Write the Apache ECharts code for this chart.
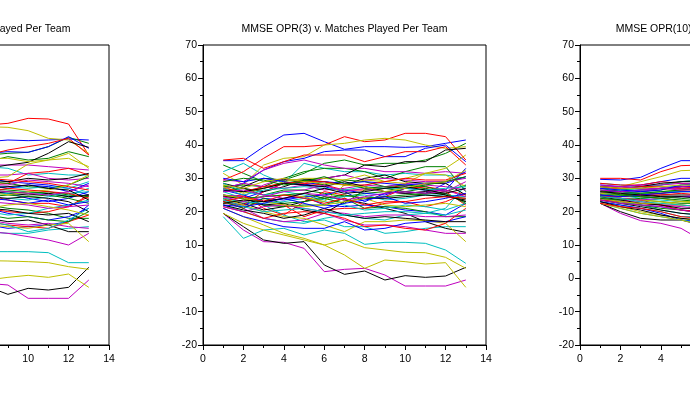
<!DOCTYPE html>
<html>
<head>
<meta charset="utf-8">
<script src="https://cdn.jsdelivr.net/npm/echarts@6/dist/echarts.min.js"></script>
<style>html,body{margin:0;padding:0;background:#fff;overflow:hidden;width:690px;height:393px;}#c{width:1040px;height:393px;margin-left:-174px;}</style>
</head>
<body>
<div id="c"></div>
<script>
// ---------------- DATA ----------------
const titles = [
  "MMSE OPR(1) v. Matches Played Per Team",
  "MMSE OPR(3) v. Matches Played Per Team",
  "MMSE OPR(10) v. Matches Played Per Team"
];
const xTicks = [0, 2, 4, 6, 8, 10, 12, 14];
const yTicks = [-20, -10, 0, 10, 20, 30, 40, 50, 60, 70];

// Left panel (only matches 8..13 are visible)
const leftX = [8, 9, 10, 11, 12, 13];
const leftBlue = [
  [41,41.5,41.3,41.5,41.8,41.5],[37.5,38,37.8,39.5,42.5,39],[30,29,28.5,28,27,25],
  [26,25.5,24,23,24,26],[21,19.5,18.5,17.5,18.5,21],[16,15,15.5,16,17,22],
  [28,27,28,27.5,26,28.5],[24,23.5,22.5,23.5,22,23]];
const leftGreen = [
  [37,37.5,37.8,39.5,42.3,40.5],[35,36.5,35.5,36,38,36.5],[27,26.5,26,25.5,24.5,25],
  [22,21,20.5,19.5,18,18],[29,28.5,27.5,27,28,30.5],[24.5,25,24.5,25,24,22.5],
  [19,18,18.5,17.5,17,20],[26.5,26,25.5,26,25,24.5]];
const leftRed = [
  [46,46.5,48,47.8,46.3,37],[37,38.5,39.5,40.5,42,37],[28,28.5,31.5,32,33,31],
  [25,23.5,22.5,22.5,21.5,24.5],[21,20,19.5,20,21.5,25],[17,16,15.5,15,17,19],
  [30,29.5,29,28.5,27.5,26.5],[26,27,26.5,26,25.5,24]];
const leftCyan = [
  [33.5,33,31,31.5,31,31],[8,8,8,7.7,4.7,4.7],[14,13.5,13.5,14.5,15,15.5],
  [23,24,23.5,24.5,25,27],[27.5,27.5,27,27.5,27,29],[20,19,19.5,21,22,23.5],
  [25,25.5,26,25,25.5,26],[17,16,14,15,17.5,21]];
const leftMagenta = [
  [-1.5,-2,-6,-6,-6,-0.5],[34,34,34,33.5,33,32.5],[31,31,31.5,30,29.5,30],
  [14,13.5,12.5,11.5,10,13.5],[28,28,29.5,29,28.5,27.5],[17.5,16.5,16,16.5,15.5,15],
  [23,22.5,22,21,21.5,22],[26.5,26,25.5,25,26,28]];
const leftOlive = [
  [45.5,45.3,44.3,42,41.5,37.5],[5.3,5.2,5,4.7,3.5,2.7],[-0.5,0.3,0.9,0.3,1.3,-2.7],
  [30,30.5,34.3,35.5,37.5,33],[36,36,35,35.5,36,33.5],[16,15.5,15,16,16.5,11],
  [26,25,26,26.5,28,31],[21,22,22.5,21.5,20.5,19]];
const leftBlack = [
  [-2.5,-4.8,-3,-3.5,-2.7,3.3],[33,34,34.8,37.5,41,39.3],[18,17,17.5,16,14,14],
  [24.5,24,24.5,24,23,20],[29.5,29,30,29.5,30,31.5],[26,25.5,25,25.5,24.5,25],
  [21,20.5,19.5,19,19.5,17],[27,27.5,28,27,26.5,23.5]];

// Middle panel, OPR(3)
const midX = [1, 2, 3, 4, 5, 6, 7, 8, 9, 10, 11, 12, 13];
const midBlue = [
  [35.3,35.3,39.5,43,43.5,41,38.7,39.5,39.5,39.3,39.5,40.5,41.5],
  [27,28.5,32.5,35,36,38,38.5,38.5,36.5,36.5,39,40,35],
  [25,24,26,28.5,28,27.5,26,23,25.5,26,25.5,28.5,30.5],
  [23,22,24,23.5,24.5,22,21.5,22,21.5,20.5,20,19,22.5],
  [21,18.5,17,15.5,15,15,17,14.5,15,16.5,17,17,18.5],
  [26.5,25,23,24,24.5,25,26.5,25.5,25,27,26.5,26.5,33],
  [30,29,30,29,28,29,28.5,29,28.5,28,28.5,29,32],
  [22,21.5,22.5,24,22.5,21,22.5,23.5,24.5,22.5,23,24,25.5]];
const midGreen = [
  [34,31.5,29,29.5,31.5,34.5,35.5,34,34.5,34.5,35.5,37.5,40.5],
  [27.5,28,27.5,30,32,33,33,32,30,32,33.5,33.5,26],
  [26,27,25,26.5,26.5,25.5,24.5,25.5,26,25.5,25,24.5,24],
  [24,23,22,21.5,22,22,24,21,21.5,21,20,18.5,18.5],
  [28,26,27,28.5,29.5,28,29.5,29,27.5,28,27.5,26,28],
  [23,21,24,22.5,23,24,22.5,26.5,27,26,27,25,23],
  [25,24,24.5,25,25.5,24,25,24,24.5,25,25.5,25.5,22.5],
  [29,30,29.5,28,29,30.5,28.5,27,27.5,27,28,29,30.5]];
const midRed = [
  [29.5,32,36,39.5,39.5,40,42.5,41,41.5,43.5,43.5,42.5,35.5],
  [35.5,36,33,35,37,37,37,35,36.5,38,38,39.5,34],
  [24.5,25,21,19,23,26,25,24,24.5,27,27.5,26.5,25],
  [22.5,22,26,28.5,28.5,28,26.5,26.5,27,28,27,26,22],
  [24,21,23.5,22,18.5,20.5,21,21,22.5,23,21.5,23,25.5],
  [21.5,20,18,19.5,20,19.5,18,15.5,16,15,14.5,16.5,21],
  [27,26,27.5,28.5,29,29,28,28,29,30,29.5,29.5,31.5],
  [23,24.5,23,25,24,22.5,24,22,23,23,24,24.5,24]];
const midCyan = [
  [32,34.5,31,28.5,34.5,33,32,32,31,31.5,31,31,30],
  [18.5,12,14.5,15,13,14.5,13.5,10.2,10.8,10.8,10.5,8.5,4.5],
  [26,24,22,19,17,17.5,15.5,15.5,13.5,14,15,15.5,15.5],
  [22,20,18,17,16.5,18,19,18,17.5,19,19.5,21,28],
  [28.5,26,25,26,25,23.5,24.5,25,23.5,24,25,25,24.5],
  [24,23,22.5,23,24,23,22,20.5,21,22,21.5,20.5,22.5],
  [27,25,26.5,27,27.5,27,26.5,27.5,27,27,26.5,27,27.5],
  [23.5,21.5,20,20.5,21,20,19,19.5,20,20,19.5,19,20.5]];
const midMagenta = [
  [19.5,14.5,11,10.8,9,2,2.7,3,1,-2.3,-2.3,-2.3,-0.5],
  [29.5,29,32.5,34.5,35.5,34,33,33,32,32,31.5,32,31.5],
  [25,24.5,28,30,28.5,30,31,29.5,30,29.5,29,29,30],
  [23,21,18,17,17.5,19.5,17.5,16,16,15.5,14.5,13.5,13.5],
  [27,28.5,27.5,27,28,26.5,27,28,27.5,28.5,28,27.5,26.5],
  [21.5,20,21.5,22,21,20,19.5,18.5,19,19,18.5,18.5,19],
  [24.5,23,24.5,26,26.5,28,26,27,26,25.5,26,26.5,24.5],
  [26,26.5,25,24,25.5,25,23.5,24.5,25.5,26,25.5,26,29]];
const midOlive = [
  [31.5,28,34,36,36.5,40,40.5,41.5,42,41.5,40,39,39.5],
  [19.5,16.5,14.5,13,11.5,10,7,3,5.5,5,4.3,4.7,-2.7],
  [21,18.5,16,13.5,12,10,11.5,9.2,8.5,7.8,7.7,6.3,3],
  [24,22,20,18.5,18,16,14,17,17,17.5,17.3,16.5,11],
  [27.5,25.5,27,29,30,30,29.5,31,29,28.5,31.5,33,37],
  [22.5,23.5,24.5,25,24.5,23,28,29.5,29,30,31.5,31,27.5],
  [25,24,23,22,21.5,22,23,24,22,21.5,22,22.5,21.5],
  [28,27,29,30,29,28.5,28,27.5,26,27,28.5,29,32.5]];
const midBlack = [
  [19.5,15.5,11.5,10.5,11,4,1.2,2.2,-0.5,0.8,0.3,0.7,3.3],
  [26,27.5,30,29.5,29.5,30,31,34,33.5,35,35,38.5,39],
  [23.5,22.5,20.5,21.5,23,24.5,23.5,22.5,21,19.5,17,15,13.8],
  [28.5,27,26,27.5,29.5,29,28,30,31,29,28.5,28.5,25],
  [24.5,24,22,22.5,20.5,19.5,23,24,24,24.5,25,24.5,23.5],
  [22,20.5,19.5,18,19,21,19,18,18.5,18,17.5,17,17],
  [26.5,26,27,28.5,28,27.5,29,27.5,26,25.5,26,25,23],
  [22.5,23.5,23,24,25.5,27,25.5,26,27,27.5,26.5,25.5,27]];

// Right panel, OPR(10) (only matches 1..6 are visible)
const rightX = [1, 2, 3, 4, 5, 6];
const rightBlue = [
  [29.7,29.5,30.3,33,35.3,35.3],[28,27.5,28,29,30,30],[25.5,25,24.5,24,24.5,24.5],
  [24,23,22,21.5,20.5,20],[26.5,26,26.5,27,27.5,27.5],[23,22,21,19.5,17.5,17],
  [25,24.5,25,25.5,26,26],[27,26.5,26,26.5,28,28.5]];
const rightGreen = [
  [26,26.5,27,28,29,29.5],[25.5,25.5,26,26.5,27.5,28],[24.5,24,23.5,23,22.5,22.5],
  [27,26,25.5,25.5,26,26],[23.5,22.5,22,21,20.5,19.5],[25,25,25.5,26,26.5,27],
  [26.5,25,24.5,24,23.5,23],[24,23.5,24,24.5,24,23.5]];
const rightRed = [
  [30,30,29.5,32,33.8,34],[28.5,28,28,29,28.5,28],[25,24,23.5,22,22,21.5],
  [26,25.5,25,25.5,26.5,27],[23.5,23,22.5,22,20.5,20],[24.5,24.5,25,25,25.5,25],
  [27,27,27.5,27.5,27,27.5],[22.5,21.5,21,20,18.5,18]];
const rightCyan = [
  [28.5,28,27.5,28,29,29.5],[23,22,21,20,18.5,18.5],[25.5,25,24,23.5,23,23],
  [24,23,22,20.5,19.5,19],[26,25.5,25.5,26,26,26],[22.5,21,19.5,18.5,17.5,16.5],
  [27,26.5,26.5,27,28,28.5],[24.5,24,23,22.5,22,21.5]];
const rightMagenta = [
  [22.5,19.5,17.3,16.5,15,11.5],[27.5,27.5,28,28,28.5,28.5],[26,25.5,26,27,27,27],
  [24,23.5,23,22,21.5,21],[25,24,23.5,24,24.5,25],[23.5,22.5,22,21.5,20.5,19.5],
  [26.5,26,26.5,27,27.5,28],[28,27.5,27,27,26.5,26.5]];
const rightOlive = [
  [27,27.5,29,30.5,32.3,32.5],[23,21.5,20,19,18,17],[24.5,24,23.5,23,22,21.5],
  [25.5,25,25.5,26,26.5,26.5],[26,25.5,24.5,24,23,22.5],[22.5,21,19.5,18.5,17.5,16],
  [24,23,22.5,22.5,23,23],[27.5,27,27,27.5,28,28]];
const rightBlack = [
  [22.5,20,18,17.5,17.5,16],[25,24.5,24.5,25,25,25],[26,26,26.5,27,27.5,27.5],
  [23.5,22.5,21.5,20.5,19.5,19],[27.5,27,27.5,28.5,29,29],[24.5,23.5,22.5,22,21,21],
  [23,21.5,20.5,19,18,17.5],[26,25.5,25,24.5,24.5,24]];

// ---------------- STYLE / BUILD ----------------
const COLORS = {blue:'#0000ff', green:'#008000', red:'#ff0000', cyan:'#00bfbf',
                magenta:'#bf00bf', olive:'#bfbf00', black:'#000000'};
const panels = [
  {x: leftX,  groups: [['blue',leftBlue],['green',leftGreen],['red',leftRed],['cyan',leftCyan],['magenta',leftMagenta],['olive',leftOlive],['black',leftBlack]]},
  {x: midX,   groups: [['blue',midBlue],['green',midGreen],['red',midRed],['cyan',midCyan],['magenta',midMagenta],['olive',midOlive],['black',midBlack]]},
  {x: rightX, groups: [['blue',rightBlue],['green',rightGreen],['red',rightRed],['cyan',rightCyan],['magenta',rightMagenta],['olive',rightOlive],['black',rightBlack]]}
];
// the canvas is 1040px wide and shifted 174px left, so the viewport shows 174..864
const gridLefts = [0, 377, 754];
const PW = 283, PT = 45, PH = 300;
const FONT = '"Liberation Sans", Arial, sans-serif';

const grids = [], xAxes = [], yAxes = [], series = [], graphics = [];
panels.forEach((p, pi) => {
  grids.push({left: gridLefts[pi], top: PT, width: PW, height: PH, show: true,
              containLabel: false, outerBoundsMode: 'none',
              borderColor: '#000', borderWidth: 1, backgroundColor: 'transparent'});
  xAxes.push({type: 'value', gridIndex: pi, min: xTicks[0], max: xTicks[xTicks.length-1], interval: 2,
    axisLine: {show: true, onZero: false, lineStyle: {color: '#000', width: 1}},
    axisTick: {show: true, length: 5, lineStyle: {color: '#000'}},
    minorTick: {show: true, splitNumber: 2, length: 3, lineStyle: {color: '#000'}},
    splitLine: {show: false},
    axisLabel: {color: '#000', fontSize: 10.5, fontFamily: FONT, margin: 9}});
  yAxes.push({type: 'value', gridIndex: pi, min: yTicks[0], max: yTicks[yTicks.length-1], interval: 10,
    axisLine: {show: true, onZero: false, lineStyle: {color: '#000', width: 1}},
    axisTick: {show: true, length: 5, lineStyle: {color: '#000'}},
    minorTick: {show: true, splitNumber: 2, length: 3, lineStyle: {color: '#000'}},
    splitLine: {show: false},
    axisLabel: {color: '#000', fontSize: 10.5, fontFamily: FONT, margin: 6}});
  graphics.push({type: 'text', x: gridLefts[pi] + PW / 2, y: 29, silent: true,
    style: {text: titles[pi], fill: '#000', font: '10.5px ' + FONT,
            align: 'center', verticalAlign: 'middle', textAlign: 'center', textVerticalAlign: 'middle'}});
  const n = p.groups[0][1].length;
  for (let k = 0; k < n; k++) {
    p.groups.forEach(([cname, arr]) => {
      if (!arr[k]) return;
      series.push({type: 'line', xAxisIndex: pi, yAxisIndex: pi,
        data: arr[k].map((v, i) => [p.x[i], v]),
        symbol: 'none', showSymbol: false, silent: true, clip: true,
        lineStyle: {color: COLORS[cname], width: 1}, itemStyle: {color: COLORS[cname]}});
    });
  }
});

const chart = echarts.init(document.getElementById('c'), null, {renderer: 'canvas', width: 1040, height: 393});
chart.setOption({
  animation: false,
  backgroundColor: '#fff',
  grid: grids, xAxis: xAxes, yAxis: yAxes, series: series, graphic: graphics
});
</script>
</body>
</html>
